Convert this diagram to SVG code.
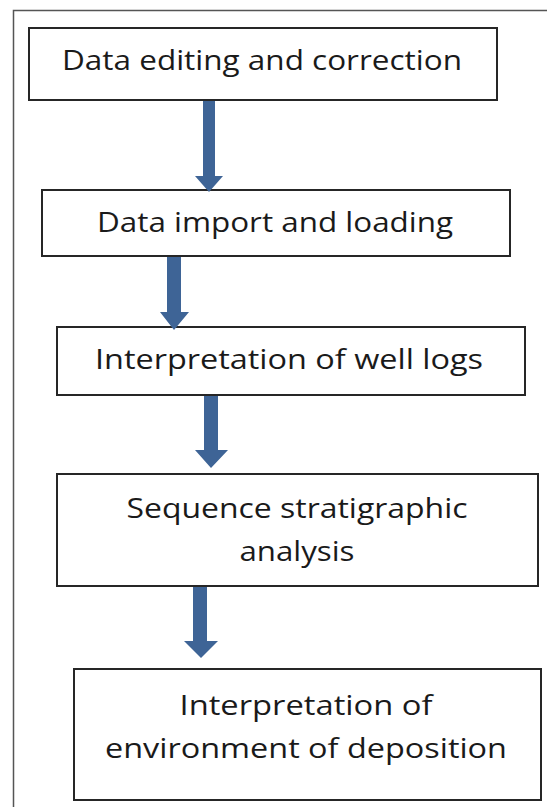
<svg xmlns="http://www.w3.org/2000/svg" width="547" height="807" viewBox="0 0 547 807">
<style>
.box{fill:#fff;stroke:#262626;stroke-width:2}
.frame{fill:none;stroke:#555;stroke-width:1.5}
.t{font-family:"Open Sans","Noto Sans",sans-serif;font-size:28px;fill:#1a1a1a;text-anchor:middle}
.arr{fill:#3E6496}
</style>
<rect width="547" height="807" fill="#fff"/>
<path class="frame" d="M13.5,807 V10.5 H547"/>
<g id="n1"><rect class="box" x="29" y="28" width="468" height="72"/><text class="t" x="262" y="70" textLength="400" lengthAdjust="spacingAndGlyphs">Data editing and correction</text></g>
<g id="n2"><rect class="box" x="42" y="190" width="468" height="66"/><text class="t" x="275" y="232" textLength="356" lengthAdjust="spacingAndGlyphs">Data import and loading</text></g>
<g id="n3"><rect class="box" x="57" y="327" width="468" height="68"/><text class="t" x="289" y="369" textLength="388" lengthAdjust="spacingAndGlyphs">Interpretation of well logs</text></g>
<g id="n4"><rect class="box" x="57" y="474" width="481" height="112"/><text class="t" x="297" y="518" textLength="341" lengthAdjust="spacingAndGlyphs">Sequence stratigraphic</text><text class="t" x="297" y="561" textLength="115" lengthAdjust="spacingAndGlyphs">analysis</text></g>
<g id="n5"><rect class="box" x="74" y="669" width="467" height="131"/><text class="t" x="306" y="715" textLength="253" lengthAdjust="spacingAndGlyphs">Interpretation of</text><text class="t" x="306" y="758" textLength="402" lengthAdjust="spacingAndGlyphs">environment of deposition</text></g>
<g id="connectors">
<path class="arr" d="M203,101 H215 V176 H223 L209,192 L195,176 H203 Z"/>
<path class="arr" d="M167,257 H181 V312 H189 L174,330 L160,312 H167 Z"/>
<path class="arr" d="M204,396 H218 V450 H228 L211,468 L195,450 H204 Z"/>
<path class="arr" d="M193,587 H207 V641 H218 L201,658 L184,641 H193 Z"/>
</g>
</svg>
